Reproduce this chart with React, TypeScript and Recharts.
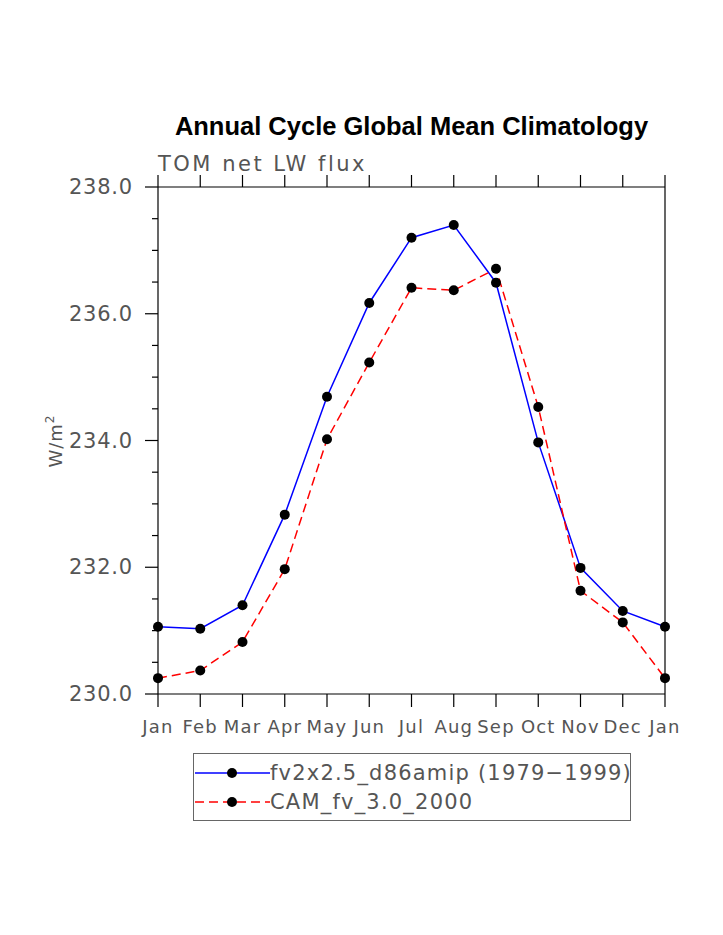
import React from 'react';
import { LineChart, Line, XAxis, YAxis, Legend } from 'recharts';

const MONTHS = ['Jan', 'Feb', 'Mar', 'Apr', 'May', 'Jun', 'Jul', 'Aug', 'Sep', 'Oct', 'Nov', 'Dec', 'Jan'];
const MONTH_INDEX = [0, 1, 2, 3, 4, 5, 6, 7, 8, 9, 10, 11, 12];

const FV2X25 = [231.06, 231.03, 231.4, 232.83, 234.69, 236.17, 237.2, 237.4, 236.49, 233.97, 231.99, 231.31, 231.06];
const CAM_FV3 = [230.25, 230.37, 230.82, 231.97, 234.02, 235.23, 236.41, 236.37, 236.71, 234.53, 231.63, 231.13, 230.25];

const Y_TICKS = [230, 230.5, 231, 231.5, 232, 232.5, 233, 233.5, 234, 234.5, 235, 235.5, 236, 236.5, 237, 237.5, 238];
const Y_MAJOR = [230, 232, 234, 236, 238];

const SERIES_NAMES = ['fv2x2.5_d86amip (1979\u22121999)', 'CAM_fv_3.0_2000'];

const data = MONTH_INDEX.map((m, i) => ({ x: m, a: FV2X25[i], b: CAM_FV3[i] }));

// wide lettering, grey to mimic the thin NCL stroke font
const FONT = '"DejaVu Sans", sans-serif';
const TEXT = '#555';

const LeftTick = (props: any) => {
  const { x, y, payload } = props;
  const major = Y_MAJOR.includes(payload.value);
  return (
    <g>
      <line x1={x} x2={x - (major ? 13 : 6)} y1={y} y2={y} stroke="#000" strokeWidth={1.2} />
      {major && (
        <text
          x={x - 25}
          y={y}
          textAnchor="end"
          dominantBaseline="central"
          fontFamily={FONT}
          fontSize={21}
          letterSpacing={0.8}
          fill={TEXT}
        >
          {payload.value.toFixed(1)}
        </text>
      )}
    </g>
  );
};

const RightTick = (props: any) => {
  const { x, y, payload } = props;
  const major = Y_MAJOR.includes(payload.value);
  return <line x1={x} x2={x + (major ? 13 : 7)} y1={y} y2={y} stroke="#000" strokeWidth={1.2} />;
};

const BottomTick = (props: any) => {
  const { x, y, payload } = props;
  return (
    <g>
      <line x1={x} x2={x} y1={y} y2={y + 13} stroke="#000" strokeWidth={1.2} />
      <text
        x={x}
        y={y + 39}
        textAnchor="middle"
        fontFamily={FONT}
        fontSize={18}
        letterSpacing={1.2}
        fill={TEXT}
      >
        {MONTHS[payload.value]}
      </text>
    </g>
  );
};

const TopTick = (props: any) => {
  const { x, y } = props;
  return <line x1={x} x2={x} y1={y} y2={y - 12} stroke="#000" strokeWidth={1.2} />;
};

const YLabel = () => (
  <text
    x={62}
    y={441}
    transform="rotate(-90 62 441)"
    textAnchor="middle"
    fontFamily={FONT}
    fontSize={18}
    letterSpacing={1}
    fill={TEXT}
  >
    W/m<tspan dy={-8} fontSize={12}>2</tspan>
  </text>
);

const LegendBox = () => (
  <div
    style={{
      width: 436,
      height: 66,
      border: '1px solid #666',
      fontFamily: FONT,
      fontSize: 21,
      letterSpacing: 1.2,
      color: TEXT,
      background: '#fff',
    }}
  >
    {SERIES_NAMES.map((name, i) => (
      <div key={name} style={{ display: 'flex', alignItems: 'center', height: 29, marginTop: i === 0 ? 4 : 0 }}>
        <svg width={75} height={20} style={{ marginLeft: 1, flex: 'none' }}>
          <line
            x1={0}
            x2={75}
            y1={10}
            y2={10}
            stroke={i === 0 ? '#0000ff' : '#ff0000'}
            strokeWidth={1.5}
            strokeDasharray={i === 0 ? undefined : '9 5'}
          />
          <circle cx={37} cy={10} r={5} fill="#000" />
        </svg>
        <span style={{ whiteSpace: 'nowrap' }}>{name}</span>
      </div>
    ))}
  </div>
);

export default function App() {
  return (
    <div style={{ position: 'absolute', left: 0, top: 0, width: 723, height: 935, background: '#fff' }}>
      <div
        style={{
          position: 'absolute',
          left: 0,
          width: 823,
          top: 110,
          textAlign: 'center',
          fontFamily: '"Liberation Sans", Arial, sans-serif',
          fontWeight: 'bold',
          fontSize: 25.5,
          color: '#000',
          lineHeight: '32px',
        }}
      >
        Annual Cycle Global Mean Climatology
      </div>
      <div
        style={{
          position: 'absolute',
          left: 158,
          top: 151,
          fontFamily: FONT,
          fontSize: 21,
          letterSpacing: 2.5,
          color: TEXT,
          lineHeight: '26px',
        }}
      >
        TOM net LW flux
      </div>
      <LineChart width={723} height={935} data={data} margin={{ top: 167, left: 98, right: 38, bottom: 201 }}>
        <XAxis
          dataKey="x"
          type="number"
          domain={[0, 12]}
          ticks={MONTH_INDEX}
          height={40}
          tickSize={0}
          tickMargin={0}
          tick={<BottomTick />}
          axisLine={{ stroke: '#000', strokeWidth: 1.2 }}
          interval={0}
        />
        <XAxis
          xAxisId="top"
          orientation="top"
          dataKey="x"
          type="number"
          domain={[0, 12]}
          ticks={MONTH_INDEX}
          height={20}
          tickSize={0}
          tickMargin={0}
          tick={<TopTick />}
          axisLine={{ stroke: '#000', strokeWidth: 1.2 }}
          interval={0}
        />
        <YAxis
          type="number"
          domain={[230, 238]}
          ticks={Y_TICKS}
          width={60}
          tickSize={0}
          tickMargin={0}
          tick={<LeftTick />}
          axisLine={{ stroke: '#000', strokeWidth: 1.2 }}
          interval={0}
          label={<YLabel />}
        />
        <YAxis
          yAxisId="right"
          orientation="right"
          type="number"
          domain={[230, 238]}
          ticks={Y_TICKS}
          width={20}
          tickSize={0}
          tickMargin={0}
          tick={<RightTick />}
          axisLine={{ stroke: '#000', strokeWidth: 1.2 }}
          interval={0}
        />
        <Line
          dataKey="a"
          name={SERIES_NAMES[0]}
          stroke="#0000ff"
          strokeWidth={1.5}
          dot={{ r: 5, fill: '#000', stroke: '#000', strokeWidth: 0 }}
          activeDot={false}
          isAnimationActive={false}
        />
        <Line
          dataKey="b"
          name={SERIES_NAMES[1]}
          stroke="#ff0000"
          strokeWidth={1.5}
          strokeDasharray="9 5"
          dot={{ r: 5, fill: '#000', stroke: '#000', strokeWidth: 0, strokeDasharray: '' }}
          activeDot={false}
          isAnimationActive={false}
        />
        <Legend
          layout="vertical"
          verticalAlign="middle"
          align="center"
          content={<LegendBox />}
          wrapperStyle={{ left: 193, top: 753, width: 438, height: 68 }}
        />
      </LineChart>
    </div>
  );
}
